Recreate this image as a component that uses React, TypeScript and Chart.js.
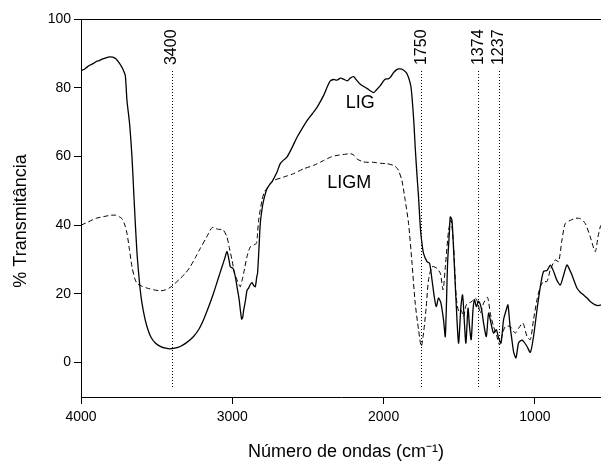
import React, { useEffect, useRef } from "react";
import { Chart, registerables } from "chart.js";

Chart.register(...registerables);

// LIG (solid) spectrum: wavenumber (cm-1) and % transmittance
const ligWn = [
  4000, 3980, 3960, 3940, 3920, 3900, 3880, 3860, 3840, 3820, 3806, 3790, 3770, 3750, 3730, 3718, 3707,
  3696, 3679, 3663, 3652, 3641, 3630, 3619, 3608, 3597, 3580, 3564, 3540, 3509, 3470, 3440, 3414, 3380,
  3344, 3300, 3256, 3220, 3190, 3160, 3124, 3095, 3068, 3050, 3035, 3020, 3013, 2995, 2980, 2969, 2955,
  2947, 2938, 2932, 2924, 2914, 2903, 2892, 2880, 2870, 2858, 2848, 2838, 2833, 2824, 2815, 2804, 2793,
  2771, 2750, 2738, 2705, 2683, 2660, 2639, 2606, 2572, 2540, 2506, 2470, 2440, 2397, 2370, 2352, 2330,
  2308, 2285, 2265, 2240, 2220, 2198, 2180, 2154, 2110, 2066, 2045, 2022, 2000, 1989, 1970, 1956, 1934,
  1915, 1901, 1880, 1868, 1850, 1835, 1820, 1812, 1800, 1791, 1780, 1769, 1758, 1750, 1736, 1713, 1696,
  1680, 1665, 1652, 1637, 1621, 1604, 1592, 1577, 1565, 1559, 1548, 1533, 1515, 1504, 1489, 1478, 1467,
  1456, 1442, 1432, 1421, 1409, 1399, 1387, 1372, 1354, 1339, 1321, 1306, 1290, 1273, 1255, 1240, 1224,
  1207, 1189, 1178, 1165, 1152, 1140, 1125, 1108, 1090, 1075, 1052, 1030, 1009, 986, 964, 943, 920, 898,
  876, 855, 832, 810, 788, 770, 755, 722, 700, 678, 655, 634, 601, 580, 563,
];
const ligT = [
  85.0, 85.3, 86.0, 86.6, 87.0, 87.6, 87.9, 88.3, 88.6, 88.9, 89.0, 88.9, 88.4, 87.4, 86.0, 84.9, 83.5,
  76.2, 69.6, 59.8, 50.1, 40.5, 32.0, 26.0, 21.0, 17.3, 13.3, 10.5, 7.6, 5.7, 4.6, 4.2, 4.0, 4.2,
  4.7, 5.9, 7.6, 9.8, 12.5, 15.8, 20.2, 24.2, 27.9, 30.3, 32.3, 29.5, 27.9, 27.4, 25.0, 22.1, 18.5,
  15.4, 12.7, 13.0, 15.5, 17.8, 21.0, 21.7, 22.8, 23.3, 22.4, 22.1, 25.0, 26.0, 33.0, 40.5, 44.5, 47.2,
  50.6, 52.0, 52.6, 55.4, 57.9, 59.0, 59.8, 62.5, 65.6, 68.0, 70.4, 72.5, 74.3, 77.7, 80.5, 82.0, 82.4,
  82.2, 82.8, 82.5, 82.0, 82.8, 83.2, 82.3, 81.0, 79.8, 78.6, 79.5, 80.6, 82.0, 82.5, 82.6, 83.0, 84.4,
  85.2, 85.5, 85.4, 85.1, 84.4, 83.0, 80.5, 77.2, 70.0, 62.7, 55.0, 48.2, 40.0, 36.0, 31.8, 29.4, 28.9,
  24.1, 19.2, 16.3, 18.8, 17.3, 12.5, 7.6, 28.9, 38.0, 42.4, 41.4, 28.9, 12.5, 5.7, 16.3, 19.7, 12.5,
  5.7, 15.8, 10.5, 6.7, 15.4, 18.3, 16.3, 17.8, 15.8, 11.5, 7.6, 14.4, 11.5, 8.6, 9.6, 7.2, 5.7,
  12.5, 15.4, 16.8, 11.0, 6.7, 3.0, 1.4, 5.7, 6.5, 6.2, 4.7, 3.0, 7.6, 15.4, 22.1, 26.5, 26.8, 28.4,
  26.5, 24.0, 22.6, 25.5, 28.4, 27.0, 25.5, 21.7, 20.5, 19.7, 18.8, 17.8, 16.8, 16.6, 16.8,
];

// LIGM (dashed) spectrum
const ligmWn = [
  4000, 3950, 3900, 3850, 3800, 3773, 3750, 3729, 3710, 3696, 3680, 3663, 3645, 3630, 3600, 3564, 3520,
  3476, 3440, 3410, 3380, 3344, 3310, 3278, 3245, 3212, 3170, 3134, 3110, 3091, 3060, 3035, 3020, 3002,
  2985, 2969, 2955, 2947, 2935, 2925, 2903, 2881, 2859, 2841, 2835, 2826, 2804, 2787, 2771, 2750, 2727,
  2661, 2595, 2529, 2463, 2397, 2350, 2308, 2260, 2220, 2200, 2176, 2140, 2110, 2066, 2020, 1978, 1934,
  1915, 1901, 1879, 1857, 1835, 1812, 1791, 1769, 1751, 1736, 1718, 1703, 1680, 1660, 1647, 1625, 1607,
  1592, 1570, 1554, 1537, 1520, 1504, 1489, 1471, 1454, 1438, 1416, 1394, 1376, 1361, 1339, 1313, 1295,
  1273, 1251, 1234, 1218, 1196, 1163, 1130, 1108, 1079, 1052, 1030, 1009, 986, 964, 943, 920, 898, 865,
  843, 821, 799, 766, 730, 700, 667, 634, 601, 583, 568, 563,
];
const ligmT = [
  40.0, 41.0, 42.0, 42.5, 42.9, 42.9, 42.5, 41.9, 40.0, 37.6, 33.0, 27.9, 24.5, 23.1, 22.3, 21.7, 21.2,
  20.9, 21.2, 21.9, 23.0, 24.5, 26.0, 27.9, 30.5, 33.2, 36.5, 39.3, 39.0, 38.8, 38.6, 36.5, 33.5, 29.9,
  26.0, 24.1, 22.6, 22.1, 24.0, 26.0, 30.8, 33.7, 34.2, 34.7, 36.5, 41.4, 47.2, 49.8, 50.6, 52.0, 53.0,
  54.0, 55.0, 56.4, 57.4, 58.8, 59.8, 60.3, 60.6, 60.8, 60.5, 59.3, 58.5, 58.3, 58.3, 58.0, 57.9, 57.4,
  56.8, 55.9, 53.0, 47.2, 40.5, 28.9, 17.3, 9.6, 4.7, 8.6, 16.3, 24.1, 27.9, 27.8, 27.4, 26.0, 21.2,
  27.9, 38.6, 41.4, 33.7, 19.2, 14.9, 15.4, 13.4, 16.8, 17.3, 17.8, 18.8, 17.3, 14.4, 17.3, 19.0, 14.4,
  10.5, 7.6, 5.2, 7.6, 10.5, 10.5, 8.6, 10.0, 11.5, 7.6, 6.7, 12.5, 18.3, 22.1, 23.6, 23.6, 27.0, 29.9,
  29.4, 35.7, 40.5, 41.4, 42.0, 41.9, 40.5, 36.6, 32.3, 36.6, 39.5, 40.0,
];

// Marked bands and tick labels
const peakBands = [3400, 1750, 1374, 1237];
const xTickValues = [4000, 3000, 2000, 1000];
const yTickValues = [0, 20, 40, 60, 80, 100];
const seriesNames = ["LIG", "LIGM"];

const FONT = "'Liberation Sans', Arial, Helvetica, sans-serif";

const annotatePlugin = {
  id: "annotate",
  afterDatasetsDraw(chart: any) {
    const { ctx, chartArea, scales } = chart;
    const xs = scales.x;
    const ys = scales.y;
    ctx.save();
    // top frame line
    ctx.strokeStyle = "#000";
    ctx.lineWidth = 1;
    ctx.beginPath();
    ctx.moveTo(chartArea.left, Math.round(chartArea.top) + 0.5);
    ctx.lineTo(chartArea.right, Math.round(chartArea.top) + 0.5);
    ctx.stroke();

    // dotted band markers
    ctx.setLineDash([1, 2]);
    ctx.lineWidth = 1;
    peakBands.forEach((wn) => {
      const x = Math.round(xs.getPixelForValue(wn)) + 0.5;
      ctx.beginPath();
      ctx.moveTo(x, Math.round(ys.getPixelForValue(85)));
      ctx.lineTo(x, Math.round(ys.getPixelForValue(-7)));
      ctx.stroke();
    });
    ctx.setLineDash([]);

    // band labels (rotated)
    ctx.fillStyle = "#000";
    ctx.font = `16px ${FONT}`;
    ctx.textAlign = "left";
    ctx.textBaseline = "middle";
    peakBands.forEach((wn) => {
      const x = xs.getPixelForValue(wn);
      ctx.save();
      ctx.translate(x, ys.getPixelForValue(86.6));
      ctx.rotate(-Math.PI / 2);
      ctx.fillText(String(wn), 0, 0);
      ctx.restore();
    });

    // series labels
    ctx.font = `18px ${FONT}`;
    ctx.textAlign = "center";
    ctx.fillText(seriesNames[0], xs.getPixelForValue(2154), ys.getPixelForValue(75.5));
    ctx.fillText(seriesNames[1], xs.getPixelForValue(2227), ys.getPixelForValue(52.3));

    // axis titles
    ctx.font = `18px ${FONT}`;
    ctx.textAlign = "center";
    ctx.textBaseline = "alphabetic";
    ctx.fillText("Número de ondas (cm⁻¹)", 346, 457);
    ctx.save();
    ctx.translate(26, 221);
    ctx.rotate(-Math.PI / 2);
    ctx.fillText("% Transmitância", 0, 0);
    ctx.restore();
    ctx.restore();
  },
};

export default function App() {
  const ref = useRef<HTMLCanvasElement | null>(null);
  useEffect(() => {
    if (!ref.current) return;
    const chart = new Chart(ref.current, {
      type: "line",
      data: {
        datasets: [
          {
            label: seriesNames[0],
            data: ligWn.map((x, i) => ({ x, y: ligT[i] })),
            borderColor: "#000",
            borderWidth: 1.3,
            pointRadius: 0,
            tension: 0.25,
            fill: false,
          },
          {
            label: seriesNames[1],
            data: ligmWn.map((x, i) => ({ x, y: ligmT[i] })),
            borderColor: "#000",
            borderWidth: 1,
            borderDash: [5, 3],
            pointRadius: 0,
            tension: 0.25,
            fill: false,
          },
        ],
      },
      options: {
        animation: false,
        responsive: false,
        devicePixelRatio: 1,
        layout: { padding: { top: 19, right: 0, left: 0, bottom: 0 } },
        plugins: {
          legend: { display: false },
          tooltip: { enabled: false },
        },
        scales: {
          x: {
            type: "linear",
            reverse: true,
            min: 563,
            max: 4000,
            afterBuildTicks: (s: any) => {
              s.ticks = xTickValues.map((v) => ({ value: v }));
            },
            afterFit: (s: any) => {
              s.height = 66;
            },
            ticks: {
              color: "#000",
              font: { family: FONT, size: 14 },
              padding: 5,
              maxRotation: 0,
              callback: (v: any) => String(v),
            },
            grid: {
              drawOnChartArea: false,
              drawTicks: true,
              tickLength: 7,
              color: "#000",
              lineWidth: 1,
            },
            border: { display: true, color: "#000", width: 1 },
          },
          y: {
            type: "linear",
            min: -10,
            max: 100,
            afterBuildTicks: (s: any) => {
              s.ticks = yTickValues.map((v) => ({ value: v }));
            },
            afterFit: (s: any) => {
              s.width = 81;
            },
            ticks: {
              color: "#000",
              font: { family: FONT, size: 14 },
              padding: 3,
              callback: (v: any) => String(v),
            },
            grid: {
              drawOnChartArea: false,
              drawTicks: true,
              tickLength: 7,
              color: "#000",
              lineWidth: 1,
            },
            border: { display: true, color: "#000", width: 1 },
          },
        },
      },
      plugins: [annotatePlugin],
    });
    return () => chart.destroy();
  }, []);
  return (
    <canvas
      ref={ref}
      width={601}
      height={463}
      style={{ position: "fixed", left: 0, top: 0, width: 601, height: 463, background: "#fff" }}
    />
  );
}
